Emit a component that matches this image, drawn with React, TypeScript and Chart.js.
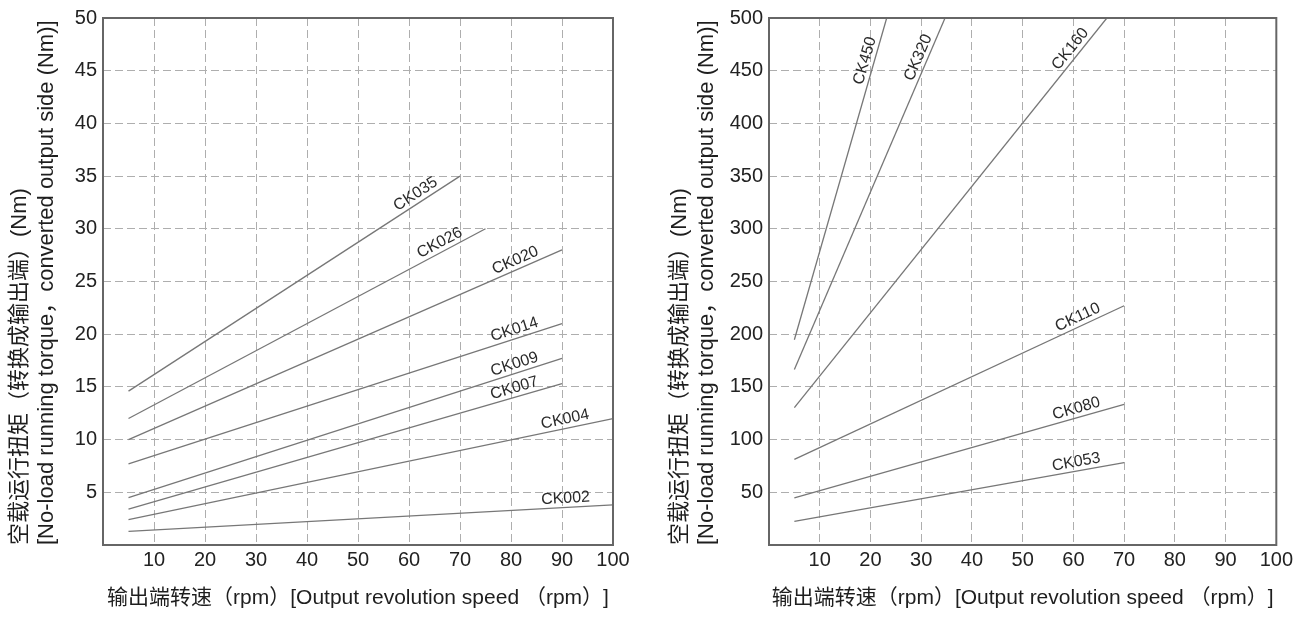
import React, { useEffect, useRef } from 'react';
import { Chart, registerables } from 'chart.js';

Chart.register(...registerables);

const FONT = "'Liberation Sans', Arial, 'Noto Sans CJK SC', sans-serif";

// ---------- Left chart data (Nm, 0-50) ----------
const leftNames = ['CK035', 'CK026', 'CK020', 'CK014', 'CK009', 'CK007', 'CK004', 'CK002'];
const leftStartX = [5, 5, 5, 5, 5, 5, 5, 5];
const leftEndX = [70, 75, 90, 90, 90, 90, 100, 100];
const leftStartY = [14.6, 12.0, 10.0, 7.7, 4.5, 3.4, 2.4, 1.3];
const leftEndY = [35, 30, 28, 21, 17.7, 15.3, 12.0, 3.8];

// ---------- Right chart data (Nm, 0-500) ----------
const rightNames = ['CK450', 'CK320', 'CK160', 'CK110', 'CK080', 'CK053'];
const rightStartX = [5, 5, 5, 5, 5, 5];
const rightEndX = [23.2, 34.7, 66.6, 70, 70, 70];
const rightStartY = [194.7, 166.6, 130.3, 81.3, 44.7, 22.5];
const rightEndY = [500, 500, 500, 227, 133.4, 78.1];

// ---------- Axes ----------
const xMin = 0;
const xMax = 100;
const xStep = 10;
const leftYMax = 50;
const leftYStep = 5;
const rightYMax = 500;
const rightYStep = 50;

const yTitleLines = ['空载运行扭矩（转换成输出端）(Nm)', '[No-load running torque，converted output side (Nm)]'];
const xTitle = '输出端转速（rpm）[Output revolution speed （rpm）]';

const lineLabels = {
  id: 'lineLabels',
  afterDatasetsDraw(chart: any) {
    const ctx = chart.ctx;
    chart.data.datasets.forEach((ds: any, i: number) => {
      const meta = chart.getDatasetMeta(i);
      const pts = meta.data;
      if (!pts || pts.length < 2) return;
      const a = pts[0];
      const b = pts[pts.length - 1];
      const dx = b.x - a.x;
      const dy = b.y - a.y;
      const len = Math.hypot(dx, dy);
      const ux = dx / len;
      const uy = dy / len;
      const back = 47;
      const off = 9;
      const cx = b.x - ux * back + uy * off;
      const cy = b.y - uy * back - ux * off;
      ctx.save();
      ctx.translate(cx, cy);
      ctx.rotate(Math.atan2(dy, dx));
      ctx.font = `16px ${FONT}`;
      ctx.fillStyle = '#2a2a2a';
      ctx.textAlign = 'center';
      ctx.textBaseline = 'middle';
      ctx.fillText(ds.label, 0, 0);
      ctx.restore();
    });
  },
};

const frame = {
  id: 'frame',
  afterDatasetsDraw(chart: any) {
    const { ctx, chartArea } = chart;
    ctx.save();
    ctx.strokeStyle = '#666';
    ctx.lineWidth = 2;
    ctx.strokeRect(chartArea.left, chartArea.top, chartArea.right - chartArea.left, chartArea.bottom - chartArea.top);
    ctx.restore();
  },
};

function buildDatasets(names: string[], x0: number[], x1: number[], y0: number[], y1: number[]) {
  return names.map((n, i) => ({
    label: n,
    data: [
      { x: x0[i], y: y0[i] },
      { x: x1[i], y: y1[i] },
    ],
    borderColor: '#777',
    borderWidth: 1.3,
    pointRadius: 0,
    fill: false,
    tension: 0,
  }));
}

function makeConfig(datasets: any[], yMax: number, yStep: number, yWidth: number, rightPad: number) {
  return {
    type: 'line' as const,
    data: { datasets },
    plugins: [frame, lineLabels],
    options: {
      animation: false,
      responsive: false,
      devicePixelRatio: 1,
      layout: { padding: { top: 12, right: rightPad, left: 0, bottom: 0 } },
      plugins: { legend: { display: false }, tooltip: { enabled: false } },
      scales: {
        x: {
          type: 'linear',
          min: xMin,
          max: xMax,
          afterFit: (s: any) => {
            s.height = 72;
          },
          ticks: {
            stepSize: xStep,
            autoSkip: false,
            maxRotation: 0,
            padding: 3,
            color: '#222',
            font: { family: FONT, size: 20 },
            callback: (v: any) => (v === 0 ? '' : String(v)),
          },
          grid: { color: '#aeaeae', lineWidth: 1, drawTicks: false },
          border: { display: false, dash: [8, 4] },
          title: {
            display: true,
            text: xTitle,
            color: '#1e1e1e',
            font: { family: FONT, size: 21 },
            padding: { top: 0, bottom: 6 },
          },
        },
        y: {
          type: 'linear',
          min: 0,
          max: yMax,
          afterFit: (s: any) => {
            s.width = yWidth;
          },
          ticks: {
            stepSize: yStep,
            autoSkip: false,
            padding: 6,
            color: '#222',
            font: { family: FONT, size: 20 },
            callback: (v: any) => (v === 0 ? '' : String(v)),
          },
          grid: { color: '#aeaeae', lineWidth: 1, drawTicks: false },
          border: { display: false, dash: [8, 4] },
          title: {
            display: true,
            text: yTitleLines,
            align: 'start',
            color: '#1e1e1e',
            font: { family: FONT, size: 22, lineHeight: 1.2 },
            padding: { top: 7, bottom: 0 },
          },
        },
      },
    },
  };
}

function ChartCanvas({ config, width, height, left }: any) {
  const ref = useRef<HTMLCanvasElement | null>(null);
  useEffect(() => {
    if (!ref.current) return;
    const chart = new Chart(ref.current, config as any);
    return () => chart.destroy();
  }, [config]);
  return (
    <canvas
      ref={ref}
      width={width}
      height={height}
      style={{ position: 'absolute', left, top: 0, width, height }}
    />
  );
}

const leftConfig = makeConfig(
  buildDatasets(leftNames, leftStartX, leftEndX, leftStartY, leftEndY),
  leftYMax,
  leftYStep,
  103,
  35
);
const rightConfig = makeConfig(
  buildDatasets(rightNames, rightStartX, rightEndX, rightStartY, rightEndY),
  rightYMax,
  rightYStep,
  109,
  17
);

export default function App() {
  return (
    <div style={{ position: 'fixed', left: 0, top: 0, width: 1296, height: 617, background: '#fff' }}>
      <ChartCanvas config={leftConfig} width={648} height={617} left={0} />
      <ChartCanvas config={rightConfig} width={636} height={617} left={660} />
    </div>
  );
}
